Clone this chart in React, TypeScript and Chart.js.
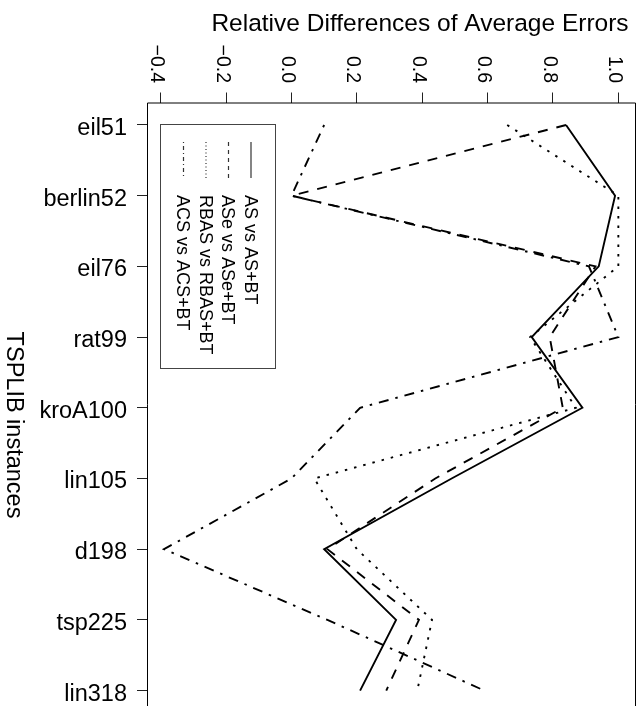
import React, { useEffect, useRef } from "react";
import { Chart, registerables } from "chart.js";
Chart.register(...registerables);

const instances = ["eil51", "berlin52", "eil76", "rat99", "kroA100", "lin105", "d198", "tsp225", "lin318"];
const xTickValues = [-0.4, -0.2, 0.0, 0.2, 0.4, 0.6, 0.8, 1.0];
const xTickLabels = ["\u22120.4", "\u22120.2", "0.0", "0.2", "0.4", "0.6", "0.8", "1.0"];
const seriesNames = ["AS vs AS+BT", "ASe vs ASe+BT", "RBAS vs RBAS+BT", "ACS vs ACS+BT"];
const asValues = [0.84, 0.99, 0.94, 0.735, 0.89, 0.49, 0.10, 0.32, 0.21];
const aseValues = [0.84, 0.0, 0.93, 0.79, 0.83, 0.44, 0.11, 0.39, 0.29];
const rbasValues = [0.66, 1.0, 1.0, 0.73, 0.87, 0.07, 0.20, 0.43, 0.385];
const acsValues = [0.10, 0.0, 0.91, 1.0, 0.21, 0.0, -0.39, 0.11, 0.59];
const xTitle = "Relative Differences of Average Errors";
const yTitle = "TSPLIB instances";

const FONT = '"Liberation Sans", Arial, Helvetica, sans-serif';
const plotDashes = [[], [10, 9], [2.5, 7], [2.5, 7, 10, 7]];
const legendDashes = [[], [4, 4], [1, 2.5], [1, 3, 4, 3]];

const overlay = {
  id: "overlay",
  afterDraw(chart: any) {
    const ctx = chart.ctx;
    const { left, top, right, bottom } = chart.chartArea;
    const xs = chart.scales.x;
    const ys = chart.scales.y;
    ctx.save();
    // plot box
    ctx.strokeStyle = "#000";
    ctx.lineWidth = 1;
    ctx.setLineDash([]);
    ctx.beginPath();
    ctx.moveTo(left + 0.5, bottom);
    ctx.lineTo(left + 0.5, top + 0.5);
    ctx.lineTo(right - 0.5, top + 0.5);
    ctx.lineTo(right - 0.5, bottom);
    ctx.stroke();

    // x tick labels (rotated clockwise)
    ctx.fillStyle = "#000";
    ctx.font = `19.5px ${FONT}`;
    xTickValues.forEach((v, i) => {
      const px = xs.getPixelForValue(v);
      ctx.save();
      ctx.translate(px - 4, 83);
      ctx.rotate(Math.PI / 2);
      ctx.textAlign = "right";
      ctx.textBaseline = "middle";
      ctx.fillText(xTickLabels[i], 0, 0);
      ctx.restore();
    });

    // y tick labels
    ctx.font = `23.5px ${FONT}`;
    ctx.textAlign = "right";
    ctx.textBaseline = "alphabetic";
    instances.forEach((name, i) => {
      const py = ys.getPixelForValue(i + 1);
      ctx.fillText(name, 127, py + 10);
    });

    // x title
    ctx.font = `24.5px ${FONT}`;
    ctx.textAlign = "center";
    ctx.fillText(xTitle, 420, 31);

    // y title (rotated clockwise)
    ctx.save();
    ctx.font = `23.5px ${FONT}`;
    ctx.translate(7, 425);
    ctx.rotate(Math.PI / 2);
    ctx.textAlign = "center";
    ctx.textBaseline = "alphabetic";
    ctx.fillText(yTitle, 0, 0);
    ctx.restore();

    // legend
    ctx.strokeStyle = "#444";
    ctx.lineWidth = 1;
    ctx.strokeRect(160.5, 124.5, 115, 244);
    seriesNames.forEach((name, i) => {
      const sx = 251 - 22.5 * i;
      ctx.save();
      ctx.strokeStyle = "#333";
      ctx.lineWidth = 1.2;
      ctx.setLineDash(legendDashes[i]);
      ctx.beginPath();
      ctx.moveTo(sx, 142);
      ctx.lineTo(sx, 178);
      ctx.stroke();
      ctx.restore();
      ctx.save();
      ctx.font = `18px ${FONT}`;
      ctx.fillStyle = "#000";
      ctx.translate(sx - 6.5, 195);
      ctx.rotate(Math.PI / 2);
      ctx.textAlign = "left";
      ctx.textBaseline = "alphabetic";
      ctx.fillText(name, 0, 0);
      ctx.restore();
    });
    ctx.restore();
  },
};

export default function App() {
  const ref = useRef<HTMLCanvasElement>(null);
  useEffect(() => {
    if (!ref.current) return;
    const allSeries = [asValues, aseValues, rbasValues, acsValues];
    const chart = new Chart(ref.current, {
      type: "line",
      data: {
        datasets: allSeries.map((vals, si) => ({
          label: seriesNames[si],
          data: vals.map((v, i) => ({ x: v, y: i + 1 })),
          borderColor: "#000",
          backgroundColor: "#000",
          borderWidth: 1.9,
          borderDash: plotDashes[si],
          pointRadius: 0,
          fill: false,
          tension: 0,
        })),
      },
      options: {
        responsive: false,
        animation: false,
        events: [],
        layout: { padding: { top: 0, left: 0, right: 8, bottom: 0 } },
        plugins: { legend: { display: false }, tooltip: { enabled: false }, title: { display: false } },
        scales: {
          x: {
            type: "linear",
            position: "top",
            min: -0.4419,
            max: 1.054,
            afterBuildTicks: (s: any) => {
              s.ticks = xTickValues.map((v) => ({ value: v }));
            },
            afterFit: (s: any) => {
              s.height = 102.5;
            },
            ticks: { display: false },
            grid: { drawOnChartArea: false, drawTicks: true, tickLength: 10, tickColor: "#222", tickWidth: 1 },
            border: { display: false },
          },
          y: {
            type: "linear",
            reverse: true,
            min: 0.682,
            max: 9.218,
            afterBuildTicks: (s: any) => {
              s.ticks = instances.map((_, i) => ({ value: i + 1 }));
            },
            afterFit: (s: any) => {
              s.width = 147;
            },
            ticks: { display: false },
            grid: { drawOnChartArea: false, drawTicks: true, tickLength: 10, tickColor: "#222", tickWidth: 1 },
            border: { display: false },
          },
        },
      },
      plugins: [overlay],
    });
    return () => chart.destroy();
  }, []);
  return (
    <div style={{ position: "fixed", left: 0, top: 0, width: 644, height: 706, background: "#fff" }}>
      <canvas ref={ref} width={644} height={706} style={{ display: "block" }} />
    </div>
  );
}
